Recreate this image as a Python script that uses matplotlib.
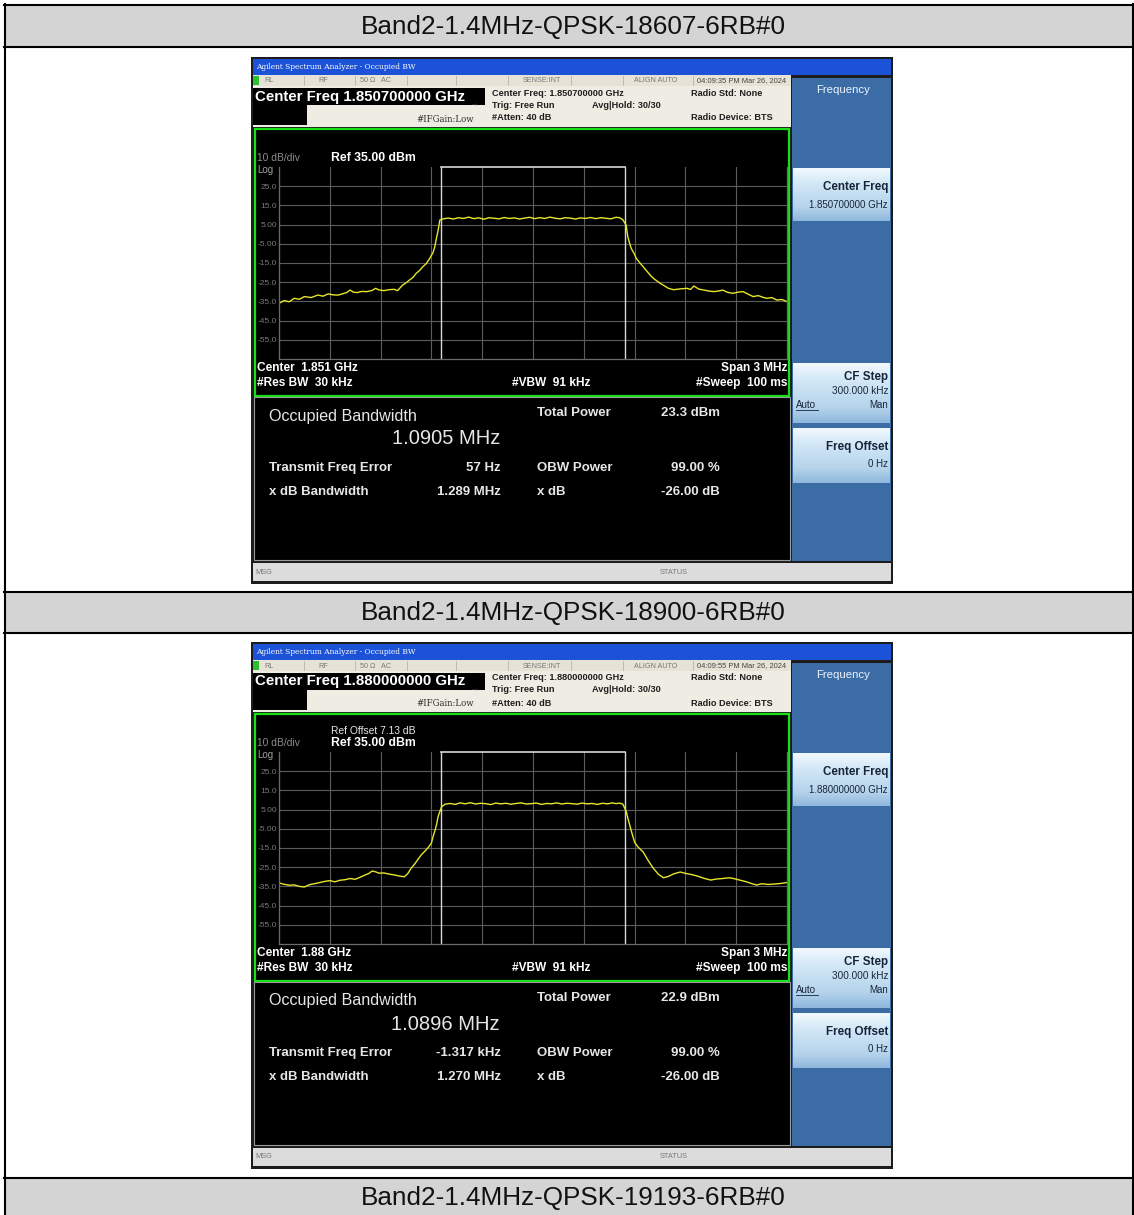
"""
Two occupied-bandwidth screenshots (Band 2, 1.4 MHz QPSK) in a report table.
"""
import numpy as np
import matplotlib.pyplot as plt
from matplotlib.patches import Rectangle
from matplotlib.colors import LinearSegmentedColormap

plt.rcParams['font.family'] = ['Liberation Sans', 'DejaVu Sans']

W, H = 1134, 1215

headers = ['Band2-1.4MHz-QPSK-18607-6RB#0',
           'Band2-1.4MHz-QPSK-18900-6RB#0',
           'Band2-1.4MHz-QPSK-19193-6RB#0']
center_freq = ['1.850700000 GHz', '1.880000000 GHz']
center_short = ['1.851 GHz', '1.88 GHz']
timestamps = ['04:09:35 PM Mar 26, 2024', '04:09:55 PM Mar 26, 2024']
ref_offset = ['', 'Ref Offset 7.13 dB']
total_power = ['23.3 dBm', '22.9 dBm']
occ_bw = ['1.0905 MHz', '1.0896 MHz']
obw_mhz = [1.0905, 1.0896]
freq_error = ['57 Hz', '-1.317 kHz']
freq_error_mhz = [0.000057, -0.001317]
xdb_bw = ['1.289 MHz', '1.270 MHz']

ytick_vals = [25, 15, 5, -5, -15, -25, -35, -45, -55]
ytick_labels = ['25.0', '15.0', '5.00', '-5.00', '-15.0', '-25.0', '-35.0', '-45.0', '-55.0']

# trace: offset from center (MHz), level (dBm)
trace1_f = [-1.50, -1.47, -1.44, -1.41, -1.38, -1.35, -1.31, -1.27, -1.24, -1.21,
            -1.18, -1.15, -1.12, -1.10, -1.08, -1.06, -1.04, -1.01, -0.98, -0.95,
            -0.93, -0.91, -0.88, -0.85, -0.82, -0.80, -0.77, -0.75, -0.73, -0.71,
            -0.69, -0.67, -0.65, -0.63, -0.61, -0.59, -0.58, -0.57, -0.56, -0.55,
            -0.53, -0.50, -0.47, -0.44, -0.41, -0.38, -0.35, -0.32, -0.29, -0.26,
            -0.23, -0.20, -0.17, -0.14, -0.11, -0.08, -0.05, -0.02, 0.01, 0.04,
            0.07, 0.10, 0.13, 0.16, 0.19, 0.22, 0.25, 0.28, 0.31, 0.34,
            0.37, 0.40, 0.43, 0.46, 0.49, 0.51, 0.53, 0.55, 0.56, 0.57,
            0.58, 0.60, 0.61, 0.63, 0.65, 0.67, 0.70, 0.72, 0.75, 0.78,
            0.80, 0.83, 0.85, 0.88, 0.91, 0.93, 0.95, 0.98, 1.01, 1.04,
            1.07, 1.10, 1.12, 1.15, 1.18, 1.21, 1.24, 1.27, 1.30, 1.33,
            1.36, 1.38, 1.41, 1.44, 1.47, 1.50]
trace1_db = [-36.0, -34.6, -35.2, -33.4, -33.9, -32.5, -33.0, -31.7, -32.3, -31.1,
             -31.6, -31.7, -30.9, -30.4, -29.1, -30.2, -30.4, -29.8, -29.9, -29.3,
             -28.2, -29.0, -29.4, -28.9, -28.7, -29.4, -26.5, -25.4, -23.9, -22.6,
             -20.4, -18.9, -16.9, -15.3, -12.6, -9.5, -6.5, -2.0, 2.2, 7.4,
             8.0, 8.4, 7.9, 8.6, 8.2, 8.9, 8.1, 8.5, 7.8, 8.6,
             8.3, 8.0, 8.7, 8.2, 8.5, 7.9, 8.4, 8.8, 8.1, 8.6,
             8.2, 8.9, 8.3, 8.0, 8.6, 8.4, 7.9, 8.5, 8.2, 8.7,
             8.1, 8.6, 8.3, 8.0, 8.8, 8.6, 7.6, 4.7, -1.4, -4.5,
             -7.4, -10.5, -12.6, -14.8, -16.9, -19.0, -22.1, -23.6, -25.5, -27.1,
             -28.2, -28.9, -28.7, -28.4, -28.2, -28.8, -27.0, -28.6, -29.1, -29.6,
             -29.9, -29.5, -29.1, -30.3, -30.8, -30.2, -29.9, -31.2, -32.5, -32.0,
             -32.9, -33.4, -33.0, -34.3, -34.0, -35.1]

trace2_f = [-1.50, -1.47, -1.44, -1.41, -1.38, -1.35, -1.32, -1.29, -1.26, -1.23,
            -1.20, -1.17, -1.14, -1.11, -1.08, -1.05, -1.02, -0.99, -0.97, -0.95,
            -0.93, -0.91, -0.88, -0.85, -0.82, -0.79, -0.76, -0.74, -0.72, -0.70,
            -0.68, -0.66, -0.64, -0.62, -0.60, -0.59, -0.58, -0.57, -0.56, -0.54,
            -0.52, -0.49, -0.46, -0.43, -0.40, -0.37, -0.34, -0.31, -0.28, -0.25,
            -0.22, -0.19, -0.16, -0.13, -0.10, -0.07, -0.04, -0.01, 0.02, 0.05,
            0.08, 0.11, 0.14, 0.17, 0.20, 0.23, 0.26, 0.29, 0.32, 0.35,
            0.38, 0.41, 0.44, 0.47, 0.49, 0.51, 0.53, 0.55, 0.56, 0.58,
            0.60, 0.62, 0.65, 0.68, 0.71, 0.74, 0.77, 0.80, 0.83, 0.87,
            0.90, 0.94, 0.97, 1.01, 1.05, 1.08, 1.12, 1.16, 1.19, 1.22,
            1.26, 1.29, 1.32, 1.35, 1.39, 1.42, 1.46, 1.50]
trace2_db = [-33.2, -33.9, -34.4, -34.2, -35.0, -35.3, -34.1, -33.6, -33.0, -32.4,
             -32.0, -32.6, -31.8, -31.5, -30.9, -31.3, -30.2, -29.0, -28.3, -27.0,
             -27.4, -28.1, -28.0, -28.6, -29.0, -29.6, -30.0, -28.4, -25.6, -23.5,
             -21.0, -18.6, -16.8, -14.9, -12.5, -9.0, -6.2, -3.0, 1.5, 6.4,
             7.8, 8.2, 7.7, 8.5, 8.0, 8.6, 7.9, 8.3, 8.1, 7.6,
             8.4, 8.0, 8.3, 7.8, 8.2, 8.5, 7.9, 8.1, 8.4, 7.7,
             8.2, 8.0, 8.5, 7.9, 8.3, 8.1, 7.8, 8.4, 8.0, 8.2,
             7.7, 8.3, 8.0, 8.5, 8.1, 8.4, 7.9, 4.2, 0.6, -6.0,
             -12.0, -14.5, -17.0, -21.5, -25.5, -28.6, -30.5, -29.8, -28.5, -27.5,
             -28.2, -28.9, -29.6, -30.8, -31.7, -31.2, -30.9, -30.5, -31.0, -31.7,
             -32.6, -33.5, -34.3, -33.6, -34.0, -33.8, -33.5, -33.0]

traces = [(trace1_f, trace1_db), (trace2_f, trace2_db)]

fig = plt.figure(figsize=(W / 100, H / 100), dpi=100)
bg = fig.add_axes([0, 0, 1, 1])
bg.set_xlim(0, W)
bg.set_ylim(H, 0)
bg.axis('off')

key_cmap = LinearSegmentedColormap.from_list(
    'key', ['#f2f9fe', '#d6eaf7', '#c4def1', '#b4d3eb', '#8fb8dc'])


def rect(x0, y0, x1, y1, fc, ec='none', lw=0.0, z=1):
    bg.add_patch(Rectangle((x0, y0), x1 - x0, y1 - y0, facecolor=fc,
                           edgecolor=ec, linewidth=lw, zorder=z))


def grad(x0, y0, x1, y1, cmap, z=1.5):
    g = np.linspace(0, 1, 64).reshape(-1, 1)
    bg.imshow(g, cmap=cmap, extent=(x0, x1, y1, y0), origin='upper',
              aspect='auto', zorder=z, interpolation='bilinear')


def txt(x, y, s, size=6, color='#222222', ha='left', weight='normal', **kw):
    bg.text(x, y, s, fontsize=size, color=color, ha=ha, va='center',
            fontweight=weight, zorder=5, **kw)


# --- report table ---
for y0, y1 in [(5, 47), (592, 633), (1178, 1215)]:
    rect(5, y0, W, y1, '#d4d4d4')
for y in [5, 47, 592, 633, 1178]:
    bg.plot([4, W], [y, y], color='black', lw=1.5, zorder=2)
bg.plot([5, 5], [4, H], color='black', lw=1.5, zorder=2)
bg.plot([1133, 1133], [4, H], color='black', lw=1.5, zorder=2)
for y, s in zip([27, 613, 1198], headers):
    txt(573, y, s, size=18.8, color='#111111', ha='center')


def draw_panel(i, y0):
    # frame + title bar
    rect(251, y0, 893, y0 + 527, '#1c1c1c')
    rect(253, y0 + 2, 891, y0 + 18, '#1b52d8')
    txt(256, y0 + 10, 'Agilent Spectrum Analyzer - Occupied BW', size=5.4,
        color='white', family=['DejaVu Serif'])
    # status row
    rect(253, y0 + 18, 791, y0 + 29, '#e6e2d6')
    rect(253, y0 + 19, 259, y0 + 28, '#2fc02f')
    for xs in [304, 355, 407, 456, 508, 571, 623, 693]:
        bg.plot([xs, xs], [y0 + 19, y0 + 28], color='#b8b4a8', lw=0.6, zorder=2)
    for xs, s in [(264, 'RL'), (318, 'RF'), (360, '50 \u03a9   AC'),
                  (523, 'SENSE:INT'), (634, 'ALIGN AUTO')]:
        txt(xs, y0 + 24, s, size=5.2, color='#777777')
    txt(697, y0 + 24, timestamps[i], size=5.4, color='#444444')
    # info strip
    rect(253, y0 + 29, 791, y0 + 70, '#efece3')
    rect(253, y0 + 31, 485, y0 + 48, 'black')
    rect(253, y0 + 48, 307, y0 + 68, 'black')
    txt(255, y0 + 39.5, 'Center Freq ' + center_freq[i], size=10.8,
        color='white', weight='bold')
    txt(416, y0 + 62, '#IFGain:Low', size=6.2, color='#333333',
        family=['DejaVu Serif'])
    txt(474, y0 + 46, '\u2192', size=7, color='#333333', ha='center')
    inf = dict(size=6.6, weight='bold', color='#1e1e1e')
    txt(492, y0 + 36, 'Center Freq: ' + center_freq[i], **inf)
    txt(492, y0 + 48, 'Trig: Free Run', **inf)
    txt(592, y0 + 48, 'Avg|Hold: 30/30', **inf)
    txt(492, y0 + 61, '#Atten: 40 dB', **inf)
    txt(691, y0 + 36, 'Radio Std: None', **inf)
    txt(691, y0 + 61, 'Radio Device: BTS', **inf)

    # softkeys
    rect(792, y0 + 21, 891, y0 + 504, '#3b6ca6')
    txt(843, y0 + 33, 'Frequency', size=8.2, color='#eef4ff', ha='center')
    for k0, k1 in [(111, 164), (306, 366), (371, 426)]:
        grad(793, y0 + k0, 890, y0 + k1, key_cmap)
    key_c = '#17253a'
    txt(888, y0 + 130, 'Center Freq', size=8.4, color=key_c, ha='right', weight='bold')
    txt(888, y0 + 148, center_freq[i], size=7.0, color=key_c, ha='right')
    txt(888, y0 + 320, 'CF Step', size=8.4, color=key_c, ha='right', weight='bold')
    txt(888, y0 + 334, '300.000 kHz', size=7.2, color=key_c, ha='right')
    txt(796, y0 + 348, 'Auto', size=7.0, color=key_c)
    bg.plot([796, 818], [y0 + 353, y0 + 353], color=key_c, lw=0.6, zorder=5)
    txt(888, y0 + 348, 'Man', size=7.0, color=key_c, ha='right')
    txt(888, y0 + 390, 'Freq Offset', size=8.4, color=key_c, ha='right', weight='bold')
    txt(888, y0 + 407, '0 Hz', size=7.0, color=key_c, ha='right')

    # graph window
    rect(255, y0 + 72, 789, y0 + 339, 'black', ec='#18e018', lw=1.6, z=2)
    txt(257, y0 + 101, '10 dB/div', size=7.4, color='#8c8c8c')
    txt(257, y0 + 113, 'Log', size=7, color='#a0a0a0')
    txt(331, y0 + 101, 'Ref 35.00 dBm', size=8.8, color='white', weight='bold')
    if ref_offset[i]:
        txt(331, y0 + 89, ref_offset[i], size=7.4, color='#e8e8e8')
    gt = dict(size=8.6, color='white', weight='bold')
    txt(257, y0 + 311, 'Center  ' + center_short[i], **gt)
    txt(257, y0 + 326, '#Res BW  30 kHz', **gt)
    txt(512, y0 + 326, '#VBW  91 kHz', **gt)
    txt(787, y0 + 311, 'Span 3 MHz', ha='right', **gt)
    txt(787, y0 + 326, '#Sweep  100 ms', ha='right', **gt)

    # measurement window
    rect(254, y0 + 340, 790, y0 + 503, 'black', ec='#9a9a9a', lw=0.8, z=2)
    mc = '#e6e6e6'
    mt = dict(size=9.5, color=mc, weight='bold')
    txt(269, y0 + 359, 'Occupied Bandwidth', size=11.6, color=mc)
    txt(500, y0 + 382, occ_bw[i], size=14.5, color=mc, ha='right')
    txt(537, y0 + 356, 'Total Power', **mt)
    txt(720, y0 + 356, total_power[i], ha='right', **mt)
    txt(269, y0 + 411, 'Transmit Freq Error', **mt)
    txt(501, y0 + 411, freq_error[i], ha='right', **mt)
    txt(537, y0 + 411, 'OBW Power', **mt)
    txt(720, y0 + 411, '99.00 %', ha='right', **mt)
    txt(269, y0 + 435, 'x dB Bandwidth', **mt)
    txt(501, y0 + 435, xdb_bw[i], ha='right', **mt)
    txt(537, y0 + 435, 'x dB', **mt)
    txt(720, y0 + 435, '-26.00 dB', ha='right', **mt)

    # message bar
    rect(253, y0 + 506, 891, y0 + 524, '#dcdcdc')
    txt(255, y0 + 515, 'MSG', size=5.3, color='#777777')
    txt(660, y0 + 515, 'STATUS', size=5.3, color='#777777')

    # trace on its own axes, placed over the grid area
    gx0, gx1 = 279, 787
    gy0, gy1 = y0 + 110, y0 + 302
    ax = fig.add_axes([gx0 / W, 1 - gy1 / H, (gx1 - gx0) / W, (gy1 - gy0) / H])
    ax.set_facecolor('none')
    ax.set_xlim(-1.5, 1.5)
    ax.set_ylim(-65, 35)
    ax.set_xticks(np.linspace(-1.5, 1.5, 11))
    ax.set_yticks(ytick_vals)
    ax.set_yticklabels(ytick_labels)
    ax.tick_params(axis='x', length=0, labelbottom=False)
    ax.tick_params(axis='y', length=0, pad=1.5, labelsize=6, labelcolor='#7a7a7a')
    ax.grid(True, color='#5c5c5c', lw=0.8)
    for sp in ax.spines.values():
        sp.set_color('#6a6a6a')
        sp.set_linewidth(0.9)
    ax.spines['top'].set_visible(False)

    lo = freq_error_mhz[i] - obw_mhz[i] / 2
    hi = freq_error_mhz[i] + obw_mhz[i] / 2
    ax.axvline(lo, color='#d8d8d8', lw=1.0)
    ax.axvline(hi, color='#d8d8d8', lw=1.0)
    ax.plot([lo, hi], [35, 35], color='#d8d8d8', lw=1.2, clip_on=False)
    f, db = traces[i]
    ax.plot(f, db, color='#e6e62a', lw=1.0)


for i in range(2):
    draw_panel(i, 57 + 585 * i)

bg.set_xlim(0, W)
bg.set_ylim(H, 0)

fig.savefig('out.png', dpi=100)
